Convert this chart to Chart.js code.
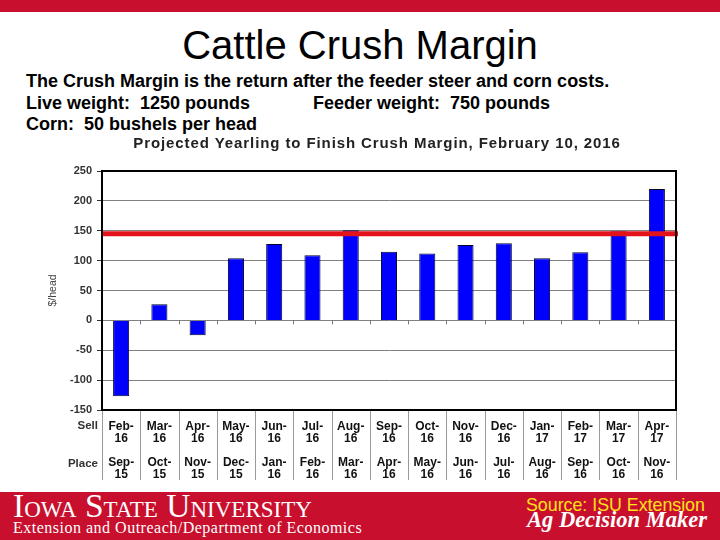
<!DOCTYPE html>
<html>
<head>
<meta charset="utf-8">
<script src="https://cdn.jsdelivr.net/npm/chart.js@4.4.1/dist/chart.umd.min.js"></script>
<style>
  body { margin: 0; width: 720px; height: 540px; background: #fff; position: relative; overflow: hidden; font-family: "Liberation Sans", Arial, sans-serif; }
  .abs { position: absolute; white-space: nowrap; line-height: 1; }
  #topBar { position: absolute; left: 0; top: 0; width: 720px; height: 12px; background: #C8102E; }
  #footer { position: absolute; left: 0; top: 492px; width: 720px; height: 48px; background: #C8102E; }
  #title { left: 0; width: 720px; text-align: center; top: 25px; font-size: 40px; color: #000; }
  .note { font-size: 18px; font-weight: bold; color: #000; }
  #isu { left: 13px; top: 489px; font-family: "Liberation Serif", "Times New Roman", serif; font-size: 33.5px; font-variant: small-caps; color: #fff; }
  #dept { left: 13px; top: 520px; font-family: "Liberation Serif", "Times New Roman", serif; font-size: 16px; color: #fff; letter-spacing: 0.5px; }
  #source { left: 526px; top: 497px; font-size: 17.8px; color: #FFE21A; }
  #agdm { left: 527px; top: 509px; font-family: "Liberation Serif", "Times New Roman", serif; font-size: 22.5px; font-weight: bold; font-style: italic; color: #fff; }
  #chartBox { position: absolute; left: 34px; top: 130px; width: 686px; height: 355px; }
</style>
</head>
<body>
<div id="topBar"></div>
<div id="title" class="abs">Cattle Crush Margin</div>
<div class="abs note" style="left:26px; top:72px;">The Crush Margin is the return after the feeder steer and corn costs.</div>
<div class="abs note" style="left:26px; top:94px;">Live weight:&nbsp; 1250 pounds</div>
<div class="abs note" style="left:313px; top:94px;">Feeder weight:&nbsp; 750 pounds</div>
<div class="abs note" style="left:26px; top:115px;">Corn:&nbsp; 50 bushels per head</div>

<div id="chartBox"><canvas id="crushChart"></canvas></div>

<div id="footer"></div>
<div id="isu" class="abs">Iowa State University</div>
<div id="dept" class="abs">Extension and Outreach/Department of Economics</div>
<div id="source" class="abs">Source: ISU Extension</div>
<div id="agdm" class="abs">Ag Decision Maker</div>

<script>
const sellMonths = ["Feb-16", "Mar-16", "Apr-16", "May-16", "Jun-16", "Jul-16", "Aug-16", "Sep-16", "Oct-16", "Nov-16", "Dec-16", "Jan-17", "Feb-17", "Mar-17", "Apr-17"];
const placeMonths = ["Sep-15", "Oct-15", "Nov-15", "Dec-15", "Jan-16", "Feb-16", "Mar-16", "Apr-16", "May-16", "Jun-16", "Jul-16", "Aug-16", "Sep-16", "Oct-16", "Nov-16"];
const margins = [-127, 27, -25, 104, 128, 109, 151, 115, 112, 126, 129, 104, 114, 149, 220];
const breakeven = 145;
const yTicks = [-150, -100, -50, 0, 50, 100, 150, 200, 250];
const chartTitle = "Projected Yearling to Finish Crush Margin, February 10, 2016";

const fontFamily = "'Liberation Sans', Arial, sans-serif";
const labelFont = { family: fontFamily, size: 12, weight: "bold", lineHeight: 1 };
const labelPadding = 11;

let lables = sellMonths.map((s, i) => {
  let a = s.split("-");
  let b = placeMonths[i].split("-");
  return [a[0] + "-", a[1], "", b[0] + "-", b[1]];
});

const slideExtras = {
  id: "slideExtras",
  afterDraw(chart) {
    const ctx = chart.ctx;
    const area = chart.chartArea;
    const x = chart.scales.x;
    const y = chart.scales.y;

    // category boundaries
    let edges = [area.left];
    for (let i = 1; i < margins.length; i++) {
      edges.push((x.getPixelForValue(i - 1) + x.getPixelForValue(i)) / 2);
    }
    edges.push(area.right);

    ctx.save();
    ctx.strokeStyle = "#9a9a9a";
    ctx.lineWidth = 1;
    edges.forEach((ex) => {
      ctx.beginPath();
      ctx.moveTo(Math.round(ex) + 0.5, area.bottom);
      ctx.lineTo(Math.round(ex) + 0.5, area.bottom + 70);
      ctx.stroke();
    });

    const y0 = y.getPixelForValue(0);
    ctx.strokeStyle = "#777";
    edges.slice(1, -1).forEach((ex) => {
      ctx.beginPath();
      ctx.moveTo(Math.round(ex) + 0.5, y0);
      ctx.lineTo(Math.round(ex) + 0.5, y0 + 4);
      ctx.stroke();
    });

    // breakeven line
    const yb = y.getPixelForValue(breakeven);
    ctx.strokeStyle = "#E3121B";
    ctx.lineWidth = 5;
    ctx.beginPath();
    ctx.moveTo(area.left, yb);
    ctx.lineTo(area.right + 2, yb);
    ctx.stroke();

    // plot frame
    ctx.strokeStyle = "#000";
    ctx.lineWidth = 2;
    ctx.strokeRect(area.left, area.top, area.right - area.left, area.bottom - area.top);

    // row names
    const lh = labelFont.size * labelFont.lineHeight;
    const row1 = x.top + labelPadding + lh / 2;
    ctx.fillStyle = "#333";
    ctx.font = "bold 11.5px " + fontFamily;
    ctx.textAlign = "right";
    ctx.textBaseline = "middle";
    ctx.fillText("Sell", area.left - 4, row1 - 1);
    ctx.fillText("Place", area.left - 4, row1 + 3 * lh + 1);

    // chart heading, letter spaced like the slide
    ctx.fillStyle = "#222";
    ctx.font = "bold 15px " + fontFamily;
    ctx.letterSpacing = "0.9px";
    ctx.textAlign = "center";
    ctx.textBaseline = "alphabetic";
    ctx.fillText(chartTitle, chart.width / 2, 18);
    ctx.restore();
  },
};

const crushctx = document.getElementById("crushChart").getContext("2d");
const crushChart = new Chart(crushctx, {
  type: "bar",
  data: {
    labels: lables,
    datasets: [
      {
        label: "Crush Margin",
        data: margins,
        backgroundColor: "#0000FF",
        borderColor: "#00002A",
        borderWidth: 1,
        barPercentage: 0.42,
        categoryPercentage: 1,
      },
    ],
  },
  options: {
    responsive: true,
    maintainAspectRatio: false,
    animation: false,
    layout: { padding: { top: 41, right: 44 } },
    plugins: {
      legend: { display: false },
      tooltip: { enabled: false },
      title: { display: false },
    },
    scales: {
      x: {
        grid: { display: false, drawTicks: false },
        border: { display: false },
        ticks: {
          color: "#111",
          font: labelFont,
          padding: labelPadding,
          maxRotation: 0,
          autoSkip: false,
        },
        afterFit: (scale) => {
          scale.height = 75;
        },
      },
      y: {
        min: -150,
        max: 250,
        afterBuildTicks: (scale) => {
          scale.ticks = yTicks.map((v) => ({ value: v }));
        },
        grid: { color: "#808080", lineWidth: 1, tickLength: 5, tickColor: "#333" },
        border: { display: true, color: "#000", width: 2 },
        ticks: {
          color: "#333",
          padding: 5,
          font: { family: fontFamily, size: 11, weight: "bold" },
        },
        title: {
          display: true,
          text: "$/head",
          color: "#444",
          font: { family: fontFamily, size: 10.5 },
          padding: { top: 13, bottom: 0 },
        },
        afterFit: (scale) => {
          scale.width = 68;
        },
      },
    },
  },
  plugins: [slideExtras],
});
</script>
</body>
</html>
